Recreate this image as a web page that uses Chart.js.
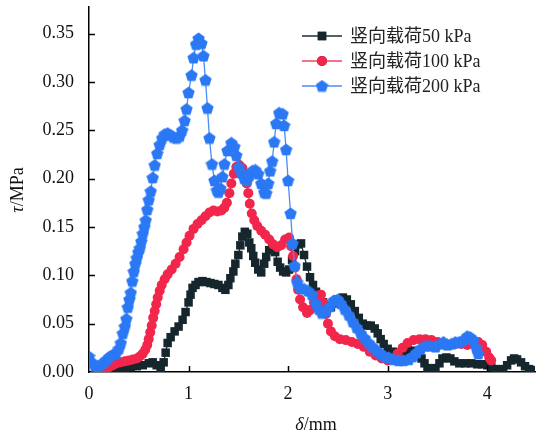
<!DOCTYPE html>
<html>
<head>
<meta charset="utf-8">
<script src="https://cdn.jsdelivr.net/npm/chart.js@4/dist/chart.umd.min.js"></script>
<style>
  html, body { margin: 0; padding: 0; background: #fff; }
  #wrap { width: 541px; height: 444px; }
</style>
</head>
<body>
<div id="wrap"><canvas id="shearChart" width="541" height="444"></canvas></div>
<script>
// ── Shear stress vs. displacement, three vertical loads ──
const xTicks = [0, 1, 2, 3, 4];
const yTicks = [0, 0.05, 0.10, 0.15, 0.20, 0.25, 0.30, 0.35];
const seriesNames = ['竖向载荷50 kPa', '竖向载荷100 kPa', '竖向载荷200 kPa'];

const disp50 = [0.19,0.24,0.30,0.36,0.42,0.48,0.54,0.60,0.64,0.68,0.72,0.75,0.77,0.79,0.82,0.86,0.90,0.94,0.97,1.00,
  1.02,1.04,1.07,1.10,1.14,1.18,1.22,1.26,1.30,1.34,1.37,1.40,1.42,1.45,1.47,1.50,1.52,1.54,1.565,1.59,
  1.61,1.63,1.65,1.67,1.70,1.73,1.76,1.78,1.81,1.84,1.87,1.895,1.92,1.95,1.98,2.01,2.04,2.07,2.10,2.13,
  2.16,2.19,2.22,2.25,2.28,2.31,2.35,2.39,2.43,2.47,2.51,2.55,2.59,2.63,2.67,2.71,2.75,2.79,2.83,2.87,
  2.90,2.93,2.96,3.00,3.05,3.10,3.15,3.20,3.25,3.30,3.34,3.37,3.40,3.44,3.48,3.52,3.55,3.59,3.63,3.67,
  3.72,3.78,3.84,3.90,3.95,4.00,4.04,4.08,4.12,4.16,4.20,4.24,4.27,4.30,4.34,4.38,4.42,4.46];
const tau50 = [0.002,0.003,0.003,0.004,0.005,0.006,0.007,0.009,0.010,0.007,0.004,0.010,0.020,0.030,0.036,0.042,0.047,0.054,0.062,0.072,
  0.080,0.087,0.090,0.093,0.094,0.093,0.092,0.091,0.090,0.087,0.085,0.090,0.097,0.104,0.112,0.121,0.131,0.140,0.145,0.143,
  0.134,0.128,0.120,0.113,0.106,0.103,0.112,0.119,0.126,0.128,0.124,0.114,0.108,0.104,0.103,0.106,0.116,0.125,0.132,0.133,
  0.121,0.109,0.098,0.090,0.083,0.076,0.072,0.069,0.067,0.071,0.075,0.077,0.075,0.070,0.063,0.056,0.050,0.048,0.048,0.045,
  0.040,0.034,0.029,0.024,0.021,0.020,0.021,0.023,0.022,0.019,0.014,0.009,0.004,0.002,0.004,0.009,0.014,0.015,0.014,0.011,
  0.009,0.009,0.009,0.008,0.008,0.007,0.005,0.003,0.002,0.003,0.007,0.012,0.014,0.013,0.010,0.006,0.003,0.002];

const disp100 = [0.16,0.20,0.24,0.28,0.32,0.36,0.40,0.44,0.48,0.51,0.54,0.565,0.585,0.60,0.615,0.63,0.645,0.66,0.675,0.69,
  0.71,0.73,0.76,0.79,0.83,0.87,0.91,0.95,0.98,1.01,1.05,1.09,1.13,1.17,1.21,1.25,1.29,1.33,1.36,1.385,
  1.41,1.43,1.455,1.48,1.51,1.54,1.565,1.585,1.60,1.615,1.635,1.66,1.69,1.73,1.77,1.81,1.85,1.89,1.93,1.97,
  2.01,2.03,2.05,2.07,2.085,2.10,2.12,2.15,2.19,2.22,2.26,2.30,2.33,2.36,2.38,2.40,2.43,2.47,2.52,2.58,
  2.64,2.70,2.76,2.82,2.88,2.94,3.00,3.05,3.10,3.15,3.20,3.26,3.32,3.38,3.44,3.50,3.56,3.62,3.68,3.74,
  3.80,3.86,3.91,3.95,3.99,4.02,4.04];
const tau100 = [0.002,0.005,0.007,0.009,0.010,0.011,0.012,0.013,0.014,0.016,0.019,0.023,0.028,0.034,0.041,0.048,0.056,0.063,0.070,0.077,
  0.084,0.090,0.096,0.101,0.106,0.112,0.119,0.127,0.134,0.141,0.148,0.153,0.157,0.161,0.165,0.167,0.166,0.167,0.170,0.175,
  0.185,0.195,0.205,0.212,0.214,0.211,0.204,0.195,0.185,0.174,0.164,0.157,0.151,0.146,0.142,0.137,0.132,0.129,0.131,0.137,
  0.139,0.130,0.120,0.108,0.096,0.085,0.075,0.067,0.061,0.064,0.072,0.079,0.080,0.071,0.060,0.050,0.042,0.037,0.034,0.033,
  0.031,0.029,0.026,0.021,0.017,0.014,0.012,0.014,0.019,0.025,0.030,0.033,0.034,0.034,0.033,0.031,0.029,0.028,0.029,0.029,
  0.028,0.030,0.031,0.028,0.021,0.015,0.012];

const disp200 = [0.00,0.03,0.06,0.09,0.12,0.15,0.18,0.21,0.24,0.27,0.30,0.32,0.34,0.36,0.375,0.39,0.405,0.42,0.435,0.45,
  0.465,0.48,0.495,0.51,0.525,0.54,0.555,0.57,0.585,0.60,0.62,0.64,0.66,0.685,0.71,0.735,0.76,0.79,0.82,0.85,
  0.88,0.91,0.935,0.96,0.98,1.00,1.03,1.05,1.075,1.10,1.13,1.15,1.17,1.19,1.21,1.235,1.26,1.285,1.30,1.32,
  1.34,1.36,1.39,1.43,1.46,1.48,1.505,1.53,1.56,1.585,1.61,1.64,1.67,1.70,1.73,1.76,1.78,1.80,1.82,1.84,
  1.86,1.88,1.91,1.945,1.96,1.98,2.00,2.025,2.045,2.065,2.09,2.12,2.16,2.20,2.24,2.28,2.31,2.34,2.38,2.42,
  2.46,2.50,2.53,2.57,2.61,2.65,2.69,2.73,2.77,2.81,2.85,2.89,2.93,2.97,3.01,3.06,3.11,3.16,3.21,3.25,
  3.29,3.33,3.38,3.43,3.48,3.52,3.56,3.60,3.64,3.68,3.72,3.76,3.80,3.83,3.86,3.89,3.91];
const tau200 = [0.016,0.010,0.006,0.005,0.008,0.010,0.013,0.016,0.018,0.019,0.024,0.030,0.040,0.047,0.055,0.067,0.075,0.082,0.094,0.104,
  0.112,0.118,0.124,0.128,0.135,0.143,0.150,0.157,0.168,0.178,0.187,0.201,0.214,0.226,0.235,0.242,0.246,0.247,0.245,0.243,
  0.242,0.244,0.250,0.260,0.272,0.289,0.307,0.325,0.339,0.345,0.340,0.327,0.302,0.273,0.242,0.215,0.198,0.188,0.186,0.190,
  0.202,0.215,0.229,0.237,0.233,0.224,0.212,0.206,0.200,0.198,0.203,0.208,0.209,0.205,0.195,0.186,0.185,0.195,0.208,0.218,
  0.238,0.257,0.268,0.267,0.255,0.230,0.198,0.164,0.133,0.110,0.093,0.087,0.086,0.084,0.080,0.071,0.065,0.061,0.063,0.068,
  0.074,0.075,0.071,0.065,0.059,0.052,0.046,0.040,0.035,0.030,0.026,0.022,0.019,0.016,0.015,0.013,0.012,0.012,0.013,0.016,
  0.020,0.024,0.027,0.027,0.026,0.029,0.031,0.028,0.029,0.031,0.031,0.033,0.037,0.036,0.033,0.025,0.019];

const SERIF = '"Liberation Serif", "Noto Sans CJK SC", serif';
const colors = {
  dark: '#15262d', darkLine: '#1d2f36',
  red: '#f2264b',  redLine: '#f0425f',
  blue: '#2b78f5', blueLine: '#4a8cf7'
};

function toPoints(xs, ys) {
  return xs.map((x, i) => ({ x: x, y: ys[i] }));
}

// pentagon marker, drawn once and reused as a pointStyle image
function makePentagon(size, color) {
  const c = document.createElement('canvas');
  c.width = size; c.height = size;
  const g = c.getContext('2d');
  const r = size / 2, cx = size / 2, cy = size / 2 + 0.6;
  g.beginPath();
  for (let k = 0; k < 5; k++) {
    const a = -Math.PI / 2 + k * 2 * Math.PI / 5;
    const px = cx + r * Math.cos(a), py = cy + r * Math.sin(a);
    if (k === 0) g.moveTo(px, py); else g.lineTo(px, py);
  }
  g.closePath();
  g.fillStyle = color;
  g.fill();
  return c;
}
const pentagon = makePentagon(13, colors.blue);

// ticks inward, axis titles with italic symbols, legend inside the plot
const decorPlugin = {
  id: 'decor',
  afterDraw(chart) {
    const ctx = chart.ctx, area = chart.chartArea;
    const xs = chart.scales.x, ys = chart.scales.y;
    ctx.save();
    ctx.strokeStyle = '#000';
    ctx.lineWidth = 1.5;
    ctx.beginPath();
    yTicks.forEach(v => {
      if (v === 0) return;
      const py = Math.round(ys.getPixelForValue(v)) + 0.5;
      ctx.moveTo(area.left, py); ctx.lineTo(area.left + 6, py);
    });
    xTicks.forEach(v => {
      if (v === 0) return;
      const px = Math.round(xs.getPixelForValue(v)) + 0.5;
      ctx.moveTo(px, area.bottom); ctx.lineTo(px, area.bottom - 6);
    });
    ctx.stroke();

    // axis titles
    ctx.fillStyle = '#111';
    ctx.textBaseline = 'middle';
    ctx.textAlign = 'left';
    const drawMixed = (sym, rest, cx, cy) => {
      ctx.font = 'italic 18px ' + SERIF;
      const w1 = ctx.measureText(sym).width;
      ctx.font = '18px ' + SERIF;
      const w2 = ctx.measureText(rest).width;
      const x0 = cx - (w1 + w2) / 2;
      ctx.font = 'italic 18px ' + SERIF;
      ctx.fillText(sym, x0, cy);
      ctx.font = '18px ' + SERIF;
      ctx.fillText(rest, x0 + w1, cy);
    };
    drawMixed('\u03b4', '/mm', 316, 425);
    ctx.save();
    ctx.translate(18, 190);
    ctx.rotate(-Math.PI / 2);
    drawMixed('\u03c4', '/MPa', 0, 0);
    ctx.restore();

    // legend
    const rows = [36, 61, 86];
    chart.data.datasets.forEach((ds, i) => {
      const y = rows[i];
      ctx.strokeStyle = ds.borderColor;
      ctx.lineWidth = 1.5;
      ctx.beginPath();
      ctx.moveTo(302, y); ctx.lineTo(342, y);
      ctx.stroke();
      Chart.helpers.drawPoint(ctx, {
        pointStyle: ds.pointStyle, radius: ds.pointRadius, borderWidth: 0, rotation: 0
      }, 322, y);
      if (ds.pointStyle !== pentagon) {
        ctx.fillStyle = ds.pointBackgroundColor;
        ctx.fill();
      }
      ctx.fillStyle = '#222';
      ctx.font = '18px ' + SERIF;
      ctx.textBaseline = 'middle';
      ctx.fillText(seriesNames[i], 350, y + 1);
    });
    ctx.restore();
  }
};

const lineCommon = {
  showLine: true, fill: false, tension: 0, borderWidth: 1.3, pointBorderWidth: 0, pointHoverRadius: 0
};

new Chart(document.getElementById('shearChart').getContext('2d'), {
  type: 'scatter',
  data: {
    datasets: [
      Object.assign({}, lineCommon, {
        label: seriesNames[0], data: toPoints(disp50, tau50), order: 3,
        borderColor: colors.darkLine, pointBackgroundColor: colors.dark,
        pointStyle: 'rect', pointRadius: 6
      }),
      Object.assign({}, lineCommon, {
        label: seriesNames[1], data: toPoints(disp100, tau100), order: 2,
        borderColor: colors.redLine, pointBackgroundColor: colors.red,
        pointStyle: 'circle', pointRadius: 5
      }),
      Object.assign({}, lineCommon, {
        label: seriesNames[2], data: toPoints(disp200, tau200), order: 1,
        borderColor: colors.blueLine, pointBackgroundColor: colors.blue,
        pointStyle: pentagon, pointRadius: 6
      })
    ]
  },
  options: {
    responsive: false, animation: false,
    layout: { padding: { top: 7, right: 0, bottom: 0, left: 0 } },
    plugins: { legend: { display: false }, tooltip: { enabled: false } },
    scales: {
      x: {
        type: 'linear', min: 0, max: 4.48,
        afterFit: s => { s.height = 72; s.paddingLeft = 0; s.paddingRight = 0; },
        afterBuildTicks: s => { s.ticks = xTicks.map(v => ({ value: v })); },
        grid: { display: false, drawTicks: false },
        border: { display: true, color: '#000', width: 1.5 },
        ticks: { padding: 11, color: '#111', font: { family: SERIF, size: 18 }, callback: v => String(v) }
      },
      y: {
        type: 'linear', min: 0, max: 0.3775,
        afterFit: s => { s.width = 89; s.paddingTop = 0; s.paddingBottom = 0; },
        afterBuildTicks: s => { s.ticks = yTicks.map(v => ({ value: v })); },
        grid: { display: false, drawTicks: false },
        border: { display: true, color: '#000', width: 1.5 },
        ticks: { padding: 15, color: '#111', font: { family: SERIF, size: 18 }, callback: v => v.toFixed(2) }
      }
    }
  },
  plugins: [decorPlugin]
});
</script>
</body>
</html>
